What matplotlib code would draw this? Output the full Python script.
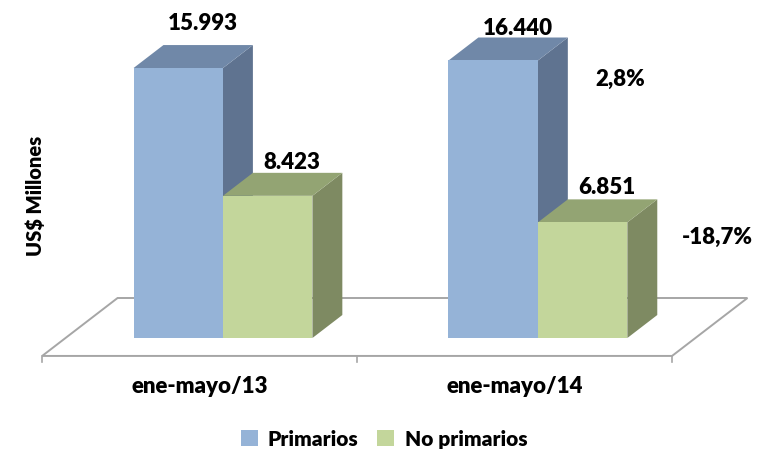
import matplotlib
matplotlib.use("Agg")
from matplotlib import pyplot as plt
from matplotlib.patches import Polygon, Patch

categories = ["ene-mayo/13", "ene-mayo/14"]
series_names = ["Primarios", "No primarios"]
primarios = [15993, 16440]
no_primarios = [8423, 6851]
variacion = ["2,8%", "-18,7%"]

# colours: front, top, side
blue = ("#95B3D7", "#7088A8", "#5F7390")
green = ("#C3D69B", "#93A473", "#7E8A62")

plt.rcParams["font.family"] = ["Lato", "DejaVu Sans"]
W = "heavy"

fig = plt.figure(figsize=(7.59, 4.52), dpi=100)
ax = fig.add_axes([0, 0, 1, 1])
ax.set_xlim(-0.708, 1.702)
ax.set_ylim(-6694, 20083)
ax.axis("off")

# fake 3d: one unit of depth moves a point right / up by this much
dx, dy = 0.095, 1362
bar_w = 0.284
z_front, z_back = -0.78, 1.74


def proj(x, y, z):
    return (x + z * dx, y + z * dy)


# floor
floor = [proj(-0.5, 0, z_front), proj(1.5, 0, z_front),
         proj(1.5, 0, z_back), proj(-0.5, 0, z_back)]
ax.add_patch(Polygon(floor, closed=True, facecolor="white",
                     edgecolor="#A6A6A6", lw=1.4, zorder=1))
for t in [-0.5, 0.5, 1.5]:
    x0, y0 = proj(t, 0, z_front)
    ax.plot([x0, x0], [y0, y0 - 360], color="#A6A6A6", lw=1.2, zorder=1)


def bar3d(x0, h, cols):
    x1 = x0 + bar_w
    front = [(x0, 0), (x1, 0), (x1, h), (x0, h)]
    top = [(x0, h), (x1, h), proj(x1, h, 1), proj(x0, h, 1)]
    side = [(x1, 0), proj(x1, 0, 1), proj(x1, h, 1), (x1, h)]
    ax.add_patch(Polygon(side, closed=True, facecolor=cols[2], edgecolor="none", zorder=2))
    ax.add_patch(Polygon(top, closed=True, facecolor=cols[1], edgecolor="none", zorder=2))
    ax.add_patch(Polygon(front, closed=True, facecolor=cols[0], edgecolor="none", zorder=2))


def fmt(v):
    return f"{v:,}".replace(",", ".")


label_dy = [[23, 11], [10, 13]]  # px above the back top edge
for i in range(len(categories)):
    bar3d(i - bar_w, primarios[i], blue)
    bar3d(i, no_primarios[i], green)
    for j, (v, x0) in enumerate([(primarios[i], i - bar_w), (no_primarios[i], i)]):
        cx, cy = proj(x0 + bar_w / 2, v, 1)
        ax.annotate(fmt(v), (cx, cy), xytext=(-4, label_dy[i][j] * 0.72),
                    textcoords="offset points", ha="center", va="center",
                    fontsize=16, fontweight=W, zorder=3)
    lx, ly = proj(i, 0, z_front)
    ax.text(lx, ly - 1780, categories[i], ha="center", va="center",
            fontsize=16, fontweight=W)

# variation labels next to the second period
ax.text(1.263, 15402, variacion[0], ha="center", va="center", fontsize=16, fontweight=W)
ax.text(1.571, 6042, variacion[1], ha="center", va="center", fontsize=16, fontweight=W)

fig.text(35 / 759, 1 - 196 / 452, "US$ Millones", rotation=90, ha="center", va="center",
         fontsize=14.5, fontweight=W)

handles = [Patch(facecolor=blue[0]), Patch(facecolor=green[0])]
fig.legend(handles, series_names, loc="center", bbox_to_anchor=(384 / 759, 1 - 440 / 452),
           ncol=2, frameon=False, handlelength=0.8, handleheight=0.8,
           handletextpad=0.5, columnspacing=0.9, prop={"weight": W, "size": 15})

fig.savefig("out.png", dpi=100)
